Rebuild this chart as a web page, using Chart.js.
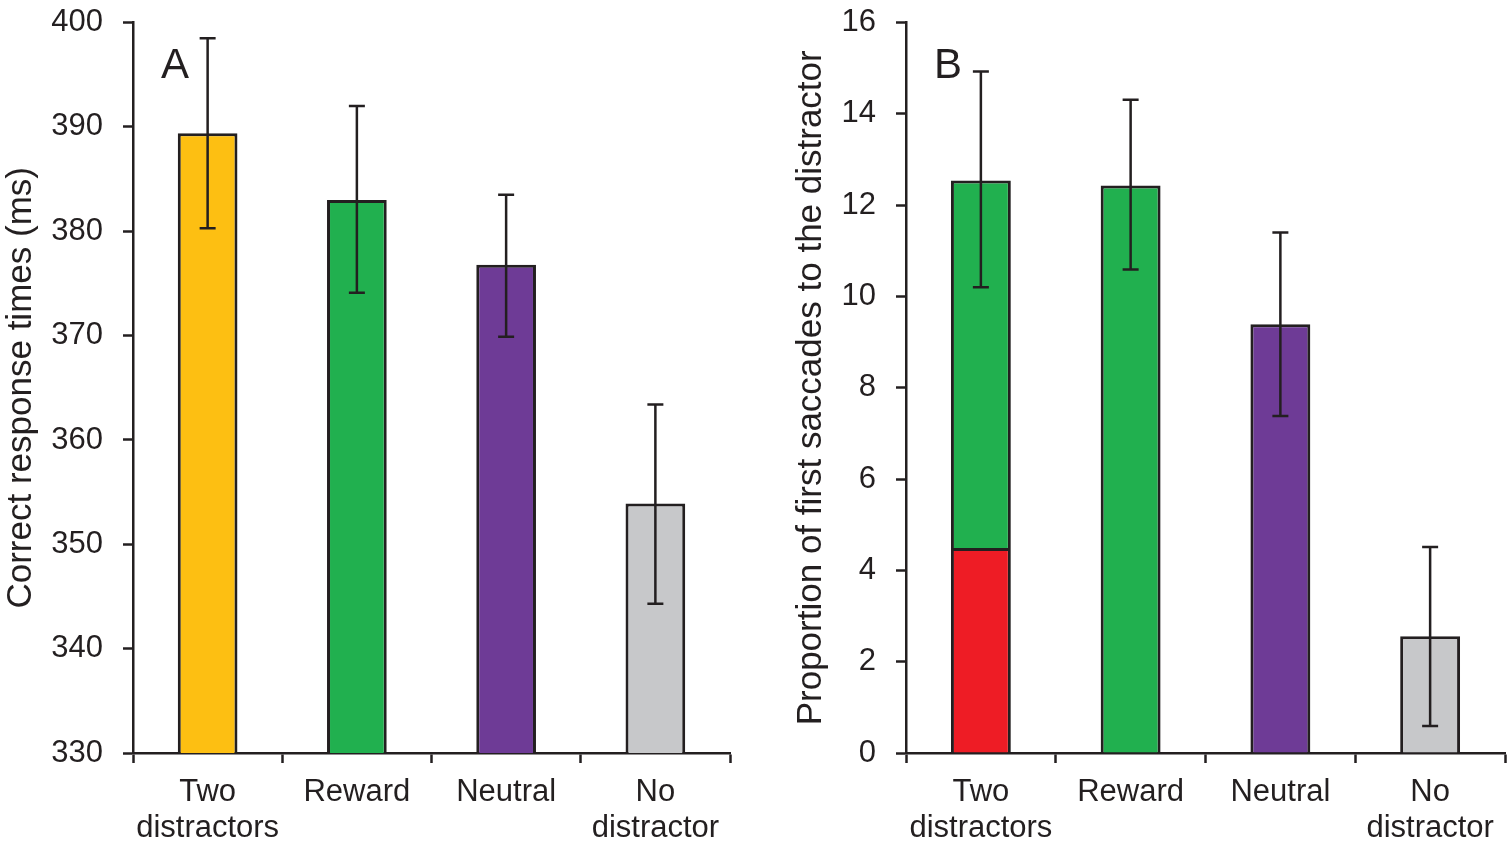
<!DOCTYPE html>
<html lang="en">
<head>
<meta charset="UTF-8">
<title>Distractor effects</title>
<style>
    body { margin: 0; background: #fff; width: 1509px; height: 847px; overflow: hidden; position: relative; }
    .panel { position: absolute; top: -16px; }
    #panelA { left: 0; }
    #panelB { left: 790px; }
</style>
<script src="https://cdn.jsdelivr.net/npm/chart.js"></script>
</head>
<body>
<div id="panelA" class="panel"><canvas id="chartA" width="745" height="863"></canvas></div>
<div id="panelB" class="panel"><canvas id="chartB" width="719" height="863"></canvas></div>
<script>
    const categories = [['Two', 'distractors'], 'Reward', 'Neutral', ['No', 'distractor']];
    const barColors = ['#fdbf12', '#21b04f', '#6e3b96', '#c7c8ca'];

    // panel A: response times (ms)
    const rtMeans = [389.4, 383.0, 376.8, 353.9];
    const rtErrHigh = [398.5, 392.0, 383.5, 363.4];
    const rtErrLow = [380.3, 374.1, 369.9, 344.3];

    // panel B: proportion of first saccades to the distractor
    const sacTotals = [12.54, 12.43, 9.39, 2.56];
    const sacRedPart = 4.49; // lower (red) part of the "Two distractors" bar
    const sacErrHigh = [14.93, 14.31, 11.40, 4.51];
    const sacErrLow = [10.20, 10.59, 7.38, 0.59];
    const sacColors = ['#ee1c25', '#21b04f', '#6e3b96', '#c7c8ca'];

    const INK = '#231f20';
    const FONT = '"Liberation Sans", Arial, sans-serif';

    const errorBars = {
        id: 'errorBars',
        afterDatasetsDraw(chart, args, opts) {
            const ctx = chart.ctx;
            const x = chart.scales.x, y = chart.scales.y;
            ctx.save();
            ctx.strokeStyle = INK;
            ctx.lineWidth = 2.5;
            opts.high.forEach((hi, i) => {
                const px = x.getPixelForValue(i);
                const top = y.getPixelForValue(hi);
                const bot = y.getPixelForValue(opts.low[i]);
                ctx.beginPath();
                ctx.moveTo(px, top); ctx.lineTo(px, bot);
                ctx.moveTo(px - 8, top); ctx.lineTo(px + 8, top);
                ctx.moveTo(px - 8, bot); ctx.lineTo(px + 8, bot);
                ctx.stroke();
            });
            // panel letter
            ctx.fillStyle = INK;
            ctx.font = '42px ' + FONT;
            ctx.textBaseline = 'alphabetic';
            ctx.fillText(opts.letter, chart.chartArea.left + 28, chart.chartArea.top + 55);
            ctx.restore();
        }
    };

    function makeOptions(yMin, yMax, step, title, yWidth, padRight, letter, high, low) {
        return {
            responsive: false,
            devicePixelRatio: 1,
            animation: false,
            layout: { padding: { left: 0, top: 6, right: padRight, bottom: 0 } },
            plugins: {
                legend: { display: false },
                tooltip: { enabled: false },
                errorBars: { high: high, low: low, letter: letter }
            },
            scales: {
                x: {
                    stacked: true,
                    grid: { drawOnChartArea: false, drawTicks: true, tickLength: 10, tickColor: INK, tickWidth: 2.5, offset: true },
                    border: { display: true, color: INK, width: 2.5 },
                    ticks: { color: INK, font: { family: FONT, size: 31, lineHeight: 1.15 }, padding: 12, maxRotation: 0, autoSkip: false },
                    afterFit(scale) { scale.height = 94; }
                },
                y: {
                    stacked: true,
                    min: yMin, max: yMax,
                    grid: { drawOnChartArea: false, drawTicks: true, tickLength: 10, tickColor: INK, tickWidth: 2.5 },
                    border: { display: true, color: INK, width: 2.5 },
                    ticks: { stepSize: step, color: INK, font: { family: FONT, size: 31 }, padding: 20 },
                    title: { display: true, text: title, color: INK, font: { family: FONT, size: 35 }, padding: { top: 0, bottom: 0 } },
                    afterFit(scale) { scale.width = yWidth; }
                }
            }
        };
    }

    new Chart(document.getElementById('chartA'), {
        type: 'bar',
        data: {
            labels: categories,
            datasets: [{
                data: rtMeans,
                backgroundColor: barColors,
                borderColor: INK,
                borderWidth: 3,
                barPercentage: 0.4,
                categoryPercentage: 1.0
            }]
        },
        options: makeOptions(330, 400, 10, 'Correct response times (ms)', 133, 15, 'A', rtErrHigh, rtErrLow),
        plugins: [errorBars]
    });

    // lower segment: red part for "Two distractors", whole bar for the rest
    const sacLower = sacTotals.map((v, i) => i === 0 ? sacRedPart : v);
    const sacUpper = sacTotals.map((v, i) => i === 0 ? v - sacRedPart : 0);

    new Chart(document.getElementById('chartB'), {
        type: 'bar',
        data: {
            labels: categories,
            datasets: [{
                data: sacLower,
                backgroundColor: sacColors,
                borderColor: INK,
                borderWidth: 3,
                barPercentage: 0.4,
                categoryPercentage: 1.0
            }, {
                data: sacUpper,
                backgroundColor: '#21b04f',
                borderColor: INK,
                borderWidth: 3,
                barPercentage: 0.4,
                categoryPercentage: 1.0
            }]
        },
        options: makeOptions(0, 16, 2, 'Proportion of first saccades to the distractor', 116, 4, 'B', sacErrHigh, sacErrLow),
        plugins: [errorBars]
    });
</script>
</body>
</html>
